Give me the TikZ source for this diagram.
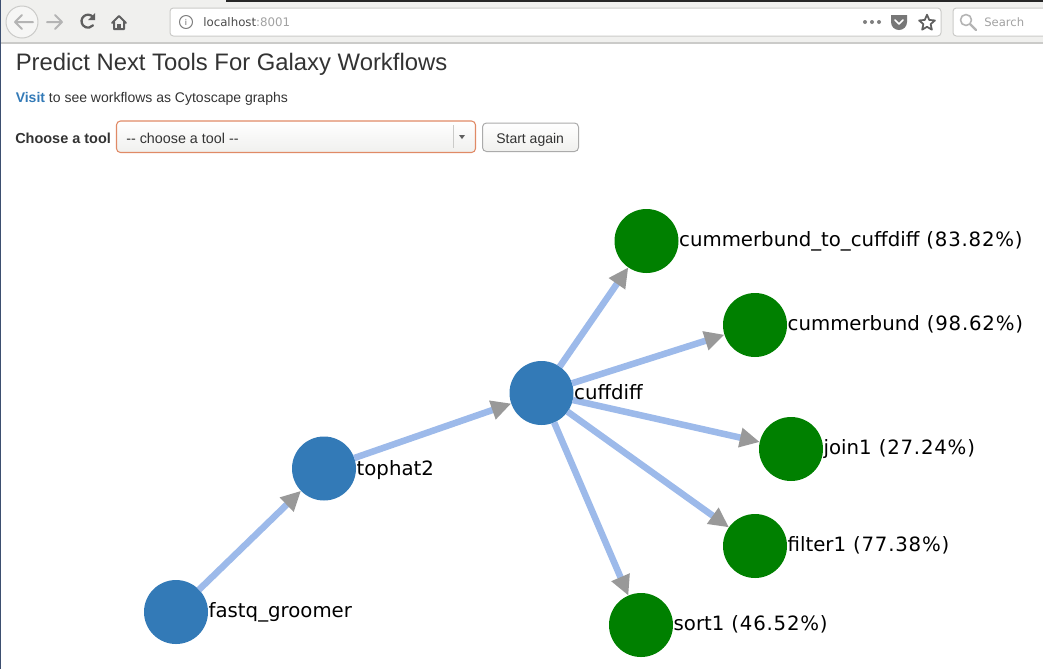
\documentclass[tikz,border=0pt]{standalone}
\usepackage{fontspec}
\setmainfont{Liberation Sans}
\newfontfamily\graphfont{DejaVu Sans}
\newfontfamily\pctfont[LetterSpace=4]{DejaVu Sans}
\newfontfamily\chromefont{DejaVu Sans}
\usetikzlibrary{arrows.meta,positioning,shapes.geometric}
\definecolor{cChrome}{HTML}{F0F0EE}
\definecolor{cEdge}{HTML}{CBCBC9}
\definecolor{cIcon}{HTML}{5F5F5F}
\definecolor{cFaint}{HTML}{B4B4B4}
\definecolor{cInk}{HTML}{333333}
\definecolor{cLink}{HTML}{337AB7}
\definecolor{cTool}{HTML}{337AB7}
\definecolor{cNext}{HTML}{008000}
\definecolor{cLine}{HTML}{9DBAEA}
\definecolor{cTip}{HTML}{999999}
\definecolor{cOrange}{HTML}{E08A66}
\definecolor{cBtn}{HTML}{ABABAB}
\definecolor{cStrip}{HTML}{3D4F70}
\newcommand{\pctval}[1]{{\pctfont\ (#1\%)}}
\tikzset{
  tool/.style={circle,fill=cTool,draw=none,minimum size=48pt,inner sep=0pt,outer sep=0pt},
  nexttool/.style={circle,fill=cNext,draw=none,minimum size=48pt,inner sep=0pt,outer sep=0pt},
  lbl/.style={anchor=base west,inner sep=0pt,yshift=-3.75pt,text=black,font=\graphfont\fontsize{14.8}{16}\selectfont},
  link/.style={cLine,line width=4.9pt,-{Triangle[length=15pt,width=14pt,color=cTip]}},
  pagetxt/.style={anchor=base west,inner sep=0pt,text=cInk,font=\fontsize{10.5}{12}\selectfont},
  glyph/.style={line width=1.5pt,line cap=round,line join=round},
}
\begin{document}
\begin{tikzpicture}[x=0.75pt,y=-0.75pt,line cap=butt,line join=round]
  \useasboundingbox (0,0) rectangle (1043,669);

  % browser bar
  \fill[cChrome] (0,0) rectangle (1043,42);
  \fill[cEdge] (0,42) rectangle (1043,43.5);
  \fill[black!85] (226,0) rectangle (1043,2);
  \fill[cStrip] (0,0) rectangle (1.5,669);

  \draw[cEdge,fill=cChrome!60!white,line width=0.75pt] (22,22) circle (16);
  \draw[glyph,cFaint] (33,22) -- (15,22) (22,15) -- (15,22) -- (22,29);
  \draw[glyph,cFaint] (47,22) -- (62,22) (55,15) -- (62,22) -- (55,29);
  \draw[glyph,cIcon,line width=1.7pt] (93,17) arc (-40:-320:6.5);
  \fill[cIcon] (95,13) -- (95,20) -- (88,20) -- cycle;
  \draw[glyph,cIcon] (112,23) -- (119,16) -- (126,23) (114,22) -- (114,29) -- (124,29) -- (124,22);
  \fill[cIcon] (117,24) rectangle (121,29);

  \draw[cEdge,fill=white,line width=0.75pt,rounded corners=2.5pt] (170,8) rectangle (941,36);
  \draw[cIcon!80,line width=0.75pt] (186,22) circle (6.5);
  \node[inner sep=0pt,text=cIcon,font=\chromefont\fontsize{6}{6}\selectfont] (infomark) at (186,22) {i};
  \node[pagetxt,text=black!70,font=\chromefont\fontsize{8.85}{11}\selectfont] (urlbar) at (203,26.5)
    {localhost\textcolor{cFaint!90!black}{:8001}};
  \foreach \dotx in {865,872,879}
    \fill[cIcon!80] (\dotx,22) circle (2);
  \fill[cIcon!85] (891,15) -- (907,15) -- (907,22) arc (0:180:8) -- cycle;
  \draw[white,line width=1.3pt,line cap=round,line join=round] (895,20) -- (899,24) -- (903,20);
  \node[star,star points=5,star point ratio=2.2,draw=cIcon,line width=1.3pt,minimum size=12.5pt,inner sep=0pt] (starmark) at (927,23) {};

  \draw[cEdge,fill=white,line width=0.75pt,rounded corners=2.5pt] (953,8) rectangle (1050,36);
  \draw[cFaint,line width=1.2pt] (966,20) circle (5.5);
  \draw[cFaint,line width=1.6pt,line cap=round] (970,24) -- (976,30);
  \node[pagetxt,text=cFaint!90!black,font=\chromefont\fontsize{8.7}{11}\selectfont] (searchbar) at (984,26.5) {Search};

  % page header
  \node[pagetxt,font=\fontsize{17.88}{20}\selectfont] (headline) at (15.5,70) {Predict Next Tools For Galaxy Workflows};
  \node[pagetxt] (visitline) at (15.5,102) {\textcolor{cLink}{\bfseries Visit} to see workflows as Cytoscape graphs};
  \node[pagetxt,font=\bfseries\fontsize{10.85}{12}\selectfont] (chooselbl) at (15,143) {Choose a tool};

  \shade[top color=white,bottom color=cChrome,rounded corners=3pt] (116.5,121) rectangle (475.5,152.5);
  \draw[cOrange,line width=0.8pt,rounded corners=3pt] (116.5,121) rectangle (475.5,152.5);
  \draw[cEdge,line width=0.5pt] (453.5,125) -- (453.5,148);
  \fill[cIcon] (459,135) -- (465,135) -- (462,139) -- cycle;
  \node[pagetxt,font=\fontsize{10.75}{12}\selectfont] (toolpick) at (126,143) {{-}{-} choose a tool {-}{-}};

  \shade[top color=white,bottom color=cChrome,rounded corners=3pt] (482.5,123) rectangle (578.5,151.5);
  \draw[cBtn,line width=0.75pt,rounded corners=3pt] (482.5,123) rectangle (578.5,151.5);
  \node[pagetxt] (againbtn) at (496,143) {Start again};

  % graph
  \node[tool] (fastq) at (176,612) {};
  \node[tool] (tophat) at (324,468.5) {};
  \node[tool] (cuffdiff) at (541.5,393) {};
  \node[nexttool] (tocuffdiff) at (646.5,241) {};
  \node[nexttool] (cummerbund) at (755,325) {};
  \node[nexttool] (joinone) at (791,449) {};
  \node[nexttool] (filterone) at (755,546) {};
  \node[nexttool] (sortone) at (641,625) {};

  \draw[link] (fastq) -- (tophat);
  \draw[link] (tophat) -- (cuffdiff);
  \foreach \target in {tocuffdiff,cummerbund,joinone,filterone,sortone}
    \draw[link] (cuffdiff) -- (\target);

  \node[lbl] (fastqlbl) at ([xshift=0.3pt]fastq.east) {fastq\_groomer};
  \node[lbl] (tophatlbl) at ([xshift=0.3pt,yshift=-1.2pt]tophat.east) {tophat2};
  \node[lbl] (cuffdifflbl) at ([xshift=0.3pt,yshift=-1.2pt]cuffdiff.east) {cuffdiff};
  \node[lbl] (tocuffdifflbl) at ([xshift=0.3pt]tocuffdiff.east) {cummerbund\_to\_cuffdiff\pctval{83.82}};
  \node[lbl] (cummerbundlbl) at ([xshift=0.3pt]cummerbund.east) {cummerbund\pctval{98.62}};
  \node[lbl] (joinonelbl) at ([xshift=0.3pt,yshift=-0.6pt]joinone.east) {join1\pctval{27.24}};
  \node[lbl] (filteronelbl) at ([xshift=0.3pt,yshift=-0.6pt]filterone.east) {filter1\pctval{77.38}};
  \node[lbl] (sortonelbl) at ([xshift=0.3pt]sortone.east) {sort1\pctval{46.52}};

\end{tikzpicture}
\end{document}
